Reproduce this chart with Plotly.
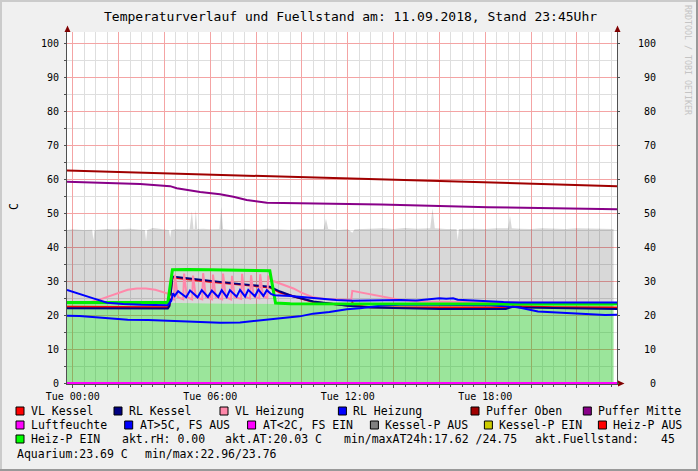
import plotly.graph_objects as go

# ---------------- data (hours since Tue 00:00) ----------------
fuell_h = [-0.25, 0, 0.5, 0.85, 0.9, 0.95, 1.5, 2, 2.5, 3, 3.15, 3.2, 3.25, 3.5, 4, 4.2, 4.25, 4.3, 4.5,
           5.1, 5.2, 5.27, 5.32, 5.37, 5.43, 5.7, 6, 6.4, 6.48, 6.56, 7, 7.5, 8, 8.5, 9, 9.5, 10, 10.5,
           10.95, 11.05, 11.15, 11.5, 12, 12.2, 12.3, 13, 13.5, 14, 14.5, 15, 15.6, 15.7, 15.8, 16.3,
           16.75, 16.8, 16.85, 17.5, 18, 18.5, 19.0, 19.08, 19.16, 19.5, 20, 20.5, 21, 21.5, 22, 22.5, 23, 23.6]
fuell_v = [45.0, 45.2, 45.0, 45.1, 42.0, 45.0, 45.3, 45.2, 45.4, 45.1, 45.0, 41.8, 45.0, 45.6, 45.2, 45.0, 42.8, 45.0, 45.3,
           45.2, 50.5, 45.3, 45.3, 51.0, 45.3, 45.4, 45.2, 45.3, 51.8, 45.3, 45.0, 45.3, 45.1, 45.4, 45.2, 45.1, 45.3, 45.2,
           45.3, 48.3, 45.3, 45.0, 45.2, 44.2, 45.2, 45.4, 45.5, 45.3, 45.6, 45.4, 45.5, 51.4, 45.5, 45.3,
           45.3, 42.0, 45.3, 45.4, 45.3, 45.5, 45.5, 49.3, 45.5, 45.4, 45.3, 45.5, 45.4, 45.3, 45.5, 45.4, 45.3, 45.3]

aq_h = [-0.25, 2.0, 4.0, 6.0, 8.0, 10.0, 12.0, 14.0, 16.0, 18.0, 20.0, 22.0, 23.6]
aq_v = [23.6, 23.7, 23.6, 23.4, 23.2, 23.1, 23.0, 23.0, 23.1, 23.3, 23.5, 23.6, 23.6]

vlk_h = [-0.25, 4.15, 4.22, 4.35, 6.0, 8.6, 9.05, 10.5, 12.0, 12.15, 12.2, 12.3, 13.0, 16.0, 19.0, 19.2, 21.0, 23.75]
vlk_v = [22.4, 22.3, 22.9, 31.0, 29.8, 28.1, 26.6, 23.8, 22.8, 22.8, 23.6, 22.8, 22.3, 22.2, 22.2, 22.6, 22.3, 22.2]

rlk_h = [-0.25, 2.0, 4.15, 4.22, 4.35, 5.0, 6.0, 7.0, 8.0, 8.6, 9.05, 9.6, 10.5, 12.0, 13.0, 16.0, 18.9, 19.2, 19.6, 21.0, 23.75]
rlk_v = [22.0, 21.9, 21.9, 22.6, 31.3, 30.8, 30.0, 29.3, 28.7, 28.3, 26.9, 25.5, 24.0, 22.7, 22.2, 21.8, 21.8, 22.4, 22.2, 22.0, 21.8]

vlh_h = [-0.25, 0.8, 1.2, 1.6, 2.0, 2.4, 2.8, 3.2, 3.6, 3.9, 4.15, 4.3,
         4.42, 4.46, 4.58, 4.82, 4.86, 4.98, 5.21, 5.25, 5.37, 5.65, 5.69, 5.81,
         6.08, 6.12, 6.24, 6.52, 6.56, 6.68, 6.91, 6.95, 7.07, 7.35, 7.39, 7.51,
         7.74, 7.78, 7.90, 8.14, 8.18, 8.30, 8.49, 8.53, 8.62,
         8.75, 9.05, 9.63, 10.0, 10.5, 11.0, 11.5, 12.15, 12.2, 12.6, 13.2, 13.8, 14.3, 15.0, 17.0, 20.0, 23.75]
vlh_v = [23.6, 23.8, 24.6, 25.6, 26.6, 27.4, 27.8, 27.8, 27.4, 26.8, 26.3, 25.0,
         24.6, 31.8, 25.3, 24.6, 32.2, 25.3, 24.6, 31.6, 25.3, 24.6, 32.3, 25.3,
         24.6, 31.9, 25.3, 24.6, 32.2, 25.3, 24.6, 31.5, 25.3, 24.7, 32.1, 25.4,
         24.8, 31.7, 25.5, 24.9, 32.0, 25.6, 25.0, 31.5, 30.6,
         30.0, 29.3, 27.8, 26.5, 25.2, 24.7, 24.5, 24.4, 27.1, 26.6, 25.8, 25.0, 24.4, 24.0, 23.8, 23.6, 23.5]

rlh_h = [-0.25, 0.3, 0.9, 1.5, 2.2, 3.0, 4.15, 4.3, 4.38, 4.45, 4.6, 4.95, 5.12, 5.45, 5.63, 5.9, 6.07,
         6.35, 6.5, 6.72, 6.86, 7.15, 7.3, 7.52, 7.66, 7.95, 8.1, 8.32, 8.47, 8.65, 8.8, 9.5, 10.5, 11.5,
         12.2, 13.0, 13.5, 14.3, 15.0, 15.4, 15.7, 16.0, 16.3, 16.6, 16.8, 17.3, 18.2, 18.8, 19.5, 23.75]
rlh_v = [27.4, 26.3, 24.9, 23.6, 23.2, 23.0, 22.9, 24.2, 26.4, 25.6, 27.0, 25.2, 27.2, 25.2, 27.3, 25.3, 27.2,
         25.3, 27.3, 25.3, 27.3, 25.4, 27.4, 25.4, 27.4, 25.5, 27.5, 25.6, 27.3, 26.2, 25.8, 25.6, 24.9, 24.4,
         24.2, 24.3, 24.2, 24.4, 24.3, 24.5, 24.6, 24.9, 24.8, 24.9, 24.5, 24.3, 24.1, 23.8, 23.7, 23.7]

po_h = [-0.25, 6.0, 11.2, 18.0, 23.75]
po_v = [62.5, 61.3, 60.4, 59.1, 57.9]

pm_h = [-0.25, 1.19, 2.94, 4.25, 4.54, 5.56, 6.43, 7.01, 7.59, 8.47, 11.66, 13.45, 18.12, 23.75]
pm_v = [59.2, 58.9, 58.5, 57.9, 57.3, 56.2, 55.5, 54.8, 53.8, 53.0, 52.8, 52.5, 51.7, 51.1]

rh_h = [-0.25, 23.75]
rh_v = [0.0, 0.0]

at_h = [-0.25, 0.3, 1.28, 2.4, 3.3, 4.25, 5.3, 6.43, 7.3, 8.2, 9.05, 9.9, 10.49, 11.2, 11.96, 12.54, 13.41,
        14.28, 15.6, 16.9, 18.2, 18.86, 19.43, 20.3, 21.05, 21.79, 23.23, 23.75]
at_v = [19.8, 19.7, 19.2, 18.6, 18.5, 18.3, 18.0, 17.7, 17.8, 18.4, 19.0, 19.6, 20.4, 20.9, 21.7, 22.0, 22.7,
        23.0, 23.0, 22.95, 22.9, 22.6, 22.3, 21.0, 20.7, 20.5, 20.0, 20.1]

hp_h = [-0.25, 4.15, 4.35, 5.0, 6.0, 7.0, 8.0, 8.6, 8.85, 9.5, 23.75]
hp_v = [23.7, 23.7, 33.3, 33.4, 33.3, 33.2, 33.2, 33.0, 23.5, 23.3, 23.2]

x_tickvals = [0, 2, 4, 6, 8, 10, 12, 14, 16, 18, 20, 22]
x_ticktext = ["Tue 00:00", "", "", "Tue 06:00", "", "", "Tue 12:00", "", "", "Tue 18:00", "", ""]
y_tickvals = [0, 10, 20, 30, 40, 50, 60, 70, 80, 90, 100]
y_ticktext = [str(v) for v in y_tickvals]

title_text = "Temperaturverlauf und Fuellstand am: 11.09.2018, Stand 23:45Uhr"
legend_row1 = ["VL Kessel", "RL Kessel", "VL Heizung", "RL Heizung", "Puffer Oben", "Puffer Mitte"]
legend_row1_col = ["#ff0000", "#000080", "#ff88aa", "#0000ff", "#a00000", "#880088"]
legend_row2 = ["Luftfeuchte", "AT&gt;5C, FS AUS", "AT&lt;2C, FS EIN", "Kessel-P AUS", "Kessel-P EIN", "Heiz-P AUS"]
legend_row2_col = ["#ff00ff", "#0000ff", "#ff00ff", "#808080", "#cccc00", "#ff0000"]
legend_row3_item = ("Heiz-P EIN", "#00ff00")
info_row3 = ["akt.rH: 0.00", "akt.AT:20.03 C", "min/maxAT24h:17.62 /24.75", "akt.Fuellstand:", "45"]
info_row4 = ["Aquarium:23.69 C", "min/max:22.96/23.76"]

# ---------------- layout helpers ----------------
W, H = 698, 471
PL, PR, PT, PB = 67, 617, 32, 384
FONT = "DejaVu Sans Mono"


def px2x(px):
    return (px - PL) / (PR - PL)


def py2y(py):
    return (PB - py) / (PB - PT)


fig = go.Figure()

# areas
fig.add_trace(go.Scatter(x=aq_h, y=aq_v, mode="lines", line=dict(width=0), fill="tozeroy",
                         fillcolor="rgba(5,190,5,0.4)", hoverinfo="skip"))
fig.add_trace(go.Scatter(x=fuell_h, y=fuell_v, mode="lines", line=dict(width=0), fill="tonexty",
                         fillcolor="rgba(0,0,0,0.153)", hoverinfo="skip"))


def line(xs, ys, color, width=2, yaxis="y"):
    fig.add_trace(go.Scatter(x=xs, y=ys, mode="lines", line=dict(color=color, width=width),
                             yaxis=yaxis, hoverinfo="skip"))


line(po_h, po_v, "#a00000")
line(pm_h, pm_v, "#880088")
line(vlk_h, vlk_v, "#ff0000", 2)
line(rlk_h, rlk_v, "#000080", 2)
line(vlh_h, vlh_v, "#ff88aa", 2)
line(at_h, at_v, "#0000ff", 2)
line(hp_h, hp_v, "#00ee00", 3)
line(rlh_h, rlh_v, "#0000ff", 2)
line(rh_h, rh_v, "#ff00ff", 2)
# invisible trace to carry the right axis
fig.add_trace(go.Scatter(x=rh_h, y=rh_v, mode="lines", line=dict(width=0), opacity=0,
                         yaxis="y2", hoverinfo="skip"))

AXC = "#505050"
fig.update_layout(
    width=W, height=H,
    margin=dict(l=PL, r=W - PR, t=PT, b=H - PB),
    paper_bgcolor="#f0f0f0", plot_bgcolor="#ffffff",
    showlegend=False,
    font=dict(family=FONT, size=10, color="#000000"),
    xaxis=dict(range=[-0.25, 23.75], tickmode="array", tickvals=x_tickvals, ticktext=x_ticktext,
               showgrid=True, gridcolor="#f4a4a4", gridwidth=1, zeroline=False,
               showline=True, linecolor=AXC, linewidth=1,
               ticks="outside", ticklen=3, tickcolor=AXC, tickfont=dict(size=10),
               minor=dict(tickmode="linear", tick0=0, dtick=0.5, showgrid=True, gridcolor="#dedede",
                          ticks="outside", ticklen=2, tickcolor=AXC)),
    yaxis=dict(range=[-0.294, 103.24], tickmode="array", tickvals=y_tickvals, ticktext=y_ticktext,
               showgrid=True, gridcolor="#f4a4a4", zeroline=False,
               showline=True, linecolor=AXC, linewidth=1,
               ticks="outside", ticklen=2, tickcolor=AXC, tickfont=dict(size=10),
               ticklabelstandoff=3,
               minor=dict(tickmode="linear", tick0=0, dtick=5, showgrid=True, gridcolor="#dedede",
                          ticks="outside", ticklen=2, tickcolor=AXC)),
    yaxis2=dict(range=[-0.294, 103.24], overlaying="y", side="right", tickmode="array",
                tickvals=y_tickvals, ticktext=["\u00a0" * (3 - len(t)) + t for t in y_ticktext],
                showgrid=False, zeroline=False, showline=True, linecolor=AXC, linewidth=1,
                ticks="outside", ticklen=2, tickcolor=AXC, tickfont=dict(size=10),
                ticklabelstandoff=16),
)

ann = []
shapes = []

# title
ann.append(dict(text=title_text, x=px2x(350.4), y=py2y(17), xref="paper", yref="paper",
                showarrow=False, xanchor="center", yanchor="middle", font=dict(size=13)))
# y axis title
ann.append(dict(text="C", x=px2x(14), y=py2y(207), xref="paper", yref="paper", showarrow=False,
                textangle=-90, xanchor="center", yanchor="middle", font=dict(size=11.5)))
# watermark
ann.append(dict(text="RRDTOOL / TOBI OETIKER", x=px2x(688), y=py2y(60), xref="paper", yref="paper",
                showarrow=False, textangle=90, xanchor="center", yanchor="middle",
                font=dict(size=8.3, color="#c4c4c4")))

# arrows
ARC = "#800000"
for ax_px in (PL, PR):
    shapes.append(dict(type="path", xref="paper", yref="paper",
                       path=f"M {px2x(ax_px + 0.5)},{py2y(25.5)} L {px2x(ax_px - 2.5)},{py2y(32)} "
                            f"L {px2x(ax_px + 3.5)},{py2y(32)} Z",
                       fillcolor=ARC, line=dict(width=0), layer="above"))
shapes.append(dict(type="path", xref="paper", yref="paper",
                   path=f"M {px2x(624.5)},{py2y(383.5)} L {px2x(618)},{py2y(380.5)} "
                        f"L {px2x(618)},{py2y(386.5)} Z",
                   fillcolor=ARC, line=dict(width=0), layer="above"))
shapes.append(dict(type="line", xref="paper", yref="paper", x0=px2x(PR), x1=px2x(619),
                   y0=py2y(383.5), y1=py2y(383.5), line=dict(color=AXC, width=1)))

# border
shapes.append(dict(type="line", xref="paper", yref="paper", x0=px2x(1), x1=px2x(1), y0=py2y(0), y1=py2y(471),
                   line=dict(color="#cbcbcb", width=2)))
shapes.append(dict(type="line", xref="paper", yref="paper", x0=px2x(0), x1=px2x(698), y0=py2y(1), y1=py2y(1),
                   line=dict(color="#cbcbcb", width=2)))
shapes.append(dict(type="line", xref="paper", yref="paper", x0=px2x(697), x1=px2x(697), y0=py2y(0), y1=py2y(471),
                   line=dict(color="#999999", width=2)))
shapes.append(dict(type="line", xref="paper", yref="paper", x0=px2x(0), x1=px2x(698), y0=py2y(470), y1=py2y(470),
                   line=dict(color="#999999", width=2)))

LEG_FS = 11.5


def legend_item(sq_px, row_py, label, color):
    shapes.append(dict(type="rect", xref="paper", yref="paper",
                       x0=px2x(sq_px), x1=px2x(sq_px + 8), y0=py2y(row_py - 4), y1=py2y(row_py + 4),
                       fillcolor=color, line=dict(color="#000000", width=1)))
    legend_text(sq_px + 14, row_py, label)


def legend_text(tx_px, row_py, label):
    ann.append(dict(text=label, x=px2x(tx_px), y=py2y(row_py), xref="paper", yref="paper",
                    showarrow=False, xanchor="left", yanchor="middle", borderpad=0,
                    font=dict(size=LEG_FS)))


row1_sq = [16, 114, 220, 338.4, 471, 583.3]
row2_sq = [16, 124.7, 247.6, 370.4, 484.4, 598.4]
for lbl, col, sx in zip(legend_row1, legend_row1_col, row1_sq):
    legend_item(sx, 411, lbl, col)
for lbl, col, sx in zip(legend_row2, legend_row2_col, row2_sq):
    legend_item(sx, 425, lbl, col)
legend_item(16, 439, legend_row3_item[0], legend_row3_item[1])
for lbl, tx in zip(info_row3, [121.1, 224.4, 342.8, 534.3, 659.8]):
    legend_text(tx, 439, lbl)
for lbl, tx in zip(info_row4, [16, 144.3]):
    legend_text(tx, 453.5, lbl)

fig.update_layout(annotations=ann, shapes=shapes)
fig.write_html("out.html", config={"displayModeBar": False},
               post_script="document.body.style.margin='0px';document.body.style.overflow='hidden';")
